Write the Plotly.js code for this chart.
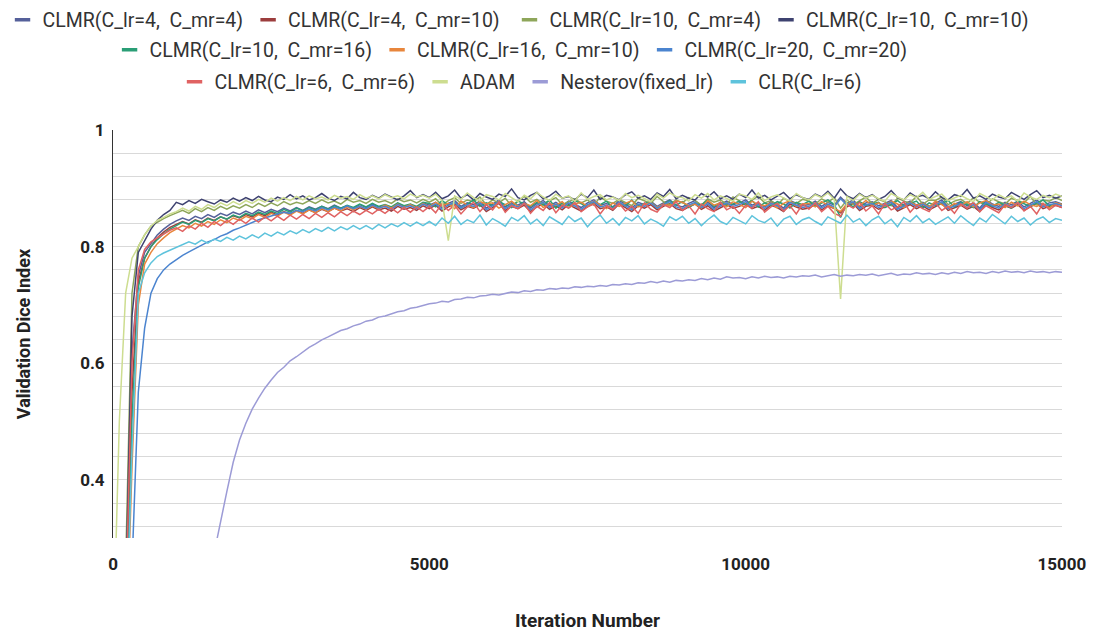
<!DOCTYPE html>
<html>
<head>
<meta charset="utf-8">
<script src="https://cdn.plot.ly/plotly-3.0.1.min.js"></script>
<style>html,body{margin:0;padding:0;background:#fff;}#chart{width:1099px;height:637px;}</style>
</head>
<body>
<div id="chart"></div>
<script>
// Iteration numbers (shared sample grid)
const iters = [
0,100,200,300,400,500,600,700,800,900,
1000,1100,1200,1300,1400,1500,1600,1700,1800,1900,
2000,2100,2200,2300,2400,2500,2600,2700,2800,2900,
3000,3100,3200,3300,3400,3500,3600,3700,3800,3900,
4000,4100,4200,4300,4400,4500,4600,4700,4800,4900,
5000,5100,5200,5300,5400,5500,5600,5700,5800,5900,
6000,6100,6200,6300,6400,6500,6600,6700,6800,6900,
7000,7100,7200,7300,7400,7500,7600,7700,7800,7900,
8000,8100,8200,8300,8400,8500,8600,8700,8800,8900,
9000,9100,9200,9300,9400,9500,9600,9700,9800,9900,
10000,10100,10200,10300,10400,10500,10600,10700,10800,10900,
11000,11100,11200,11300,11400,11500,11600,11700,11800,11900,
12000,12100,12200,12300,12400,12500,12600,12700,12800,12900,
13000,13100,13200,13300,13400,13500,13600,13700,13800,13900,
14000,14100,14200,14300,14400,14500,14600,14700,14800,14900,
15000];
const xTickVals = [0, 5000, 10000, 15000];
const xTickText = ['0', '5000', '10000', '15000'];

const seriesNames = [
"CLMR(C_lr=4,\u00a0 C_mr=4)", "CLMR(C_lr=4,\u00a0 C_mr=10)", "CLMR(C_lr=10,\u00a0 C_mr=4)", "CLMR(C_lr=10,\u00a0 C_mr=10)",
"CLMR(C_lr=10,\u00a0 C_mr=16)", "CLMR(C_lr=16,\u00a0 C_mr=10)", "CLMR(C_lr=20,\u00a0 C_mr=20)",
"CLMR(C_lr=6,\u00a0 C_mr=6)", "ADAM", "Nesterov(fixed_lr)", "CLR(C_lr=6)"];

const clmr_4_4 = [
0.05,0.05,0.15,0.62,0.75,0.79,0.805,0.82,0.83,0.838,
0.844,0.849,0.845,0.852,0.848,0.855,0.850,0.857,0.853,0.859,
0.855,0.861,0.856,0.863,0.858,0.864,0.860,0.866,0.861,0.867,
0.862,0.868,0.864,0.869,0.865,0.871,0.866,0.870,0.865,0.872,
0.867,0.873,0.868,0.871,0.866,0.874,0.869,0.872,0.867,0.875,
0.871,0.876,0.867,0.874,0.879,0.869,0.875,0.872,0.878,0.866,
0.873,0.880,0.868,0.875,0.871,0.877,0.866,0.874,0.879,0.870,
0.876,0.869,0.878,0.872,0.867,0.875,0.880,0.871,0.874,0.868,
0.879,0.873,0.866,0.876,0.872,0.878,0.869,0.875,0.880,0.871,
0.868,0.874,0.879,0.870,0.876,0.867,0.873,0.878,0.872,0.875,
0.880,0.871,0.875,0.868,0.877,0.873,0.866,0.879,0.874,0.870,
0.872,0.878,0.869,0.876,0.871,0.885,0.874,0.880,0.868,0.875,
0.877,0.870,0.874,0.879,0.867,0.873,0.878,0.871,0.876,0.869,
0.874,0.880,0.868,0.872,0.877,0.870,0.875,0.866,0.879,0.873,
0.869,0.876,0.872,0.878,0.868,0.874,0.880,0.871,0.875,0.877,
0.873];

const clmr_4_10 = [
0.05,0.05,0.12,0.55,0.74,0.78,0.80,0.815,0.825,0.833,
0.838,0.843,0.839,0.846,0.842,0.849,0.845,0.851,0.847,0.853,
0.849,0.855,0.851,0.857,0.853,0.859,0.854,0.860,0.856,0.862,
0.857,0.863,0.858,0.864,0.860,0.866,0.861,0.865,0.860,0.867,
0.862,0.868,0.863,0.866,0.861,0.869,0.864,0.867,0.862,0.870,
0.865,0.871,0.861,0.868,0.873,0.863,0.869,0.866,0.872,0.860,
0.867,0.874,0.862,0.869,0.865,0.871,0.860,0.868,0.873,0.864,
0.870,0.863,0.872,0.866,0.861,0.869,0.874,0.865,0.868,0.862,
0.873,0.867,0.860,0.870,0.866,0.872,0.863,0.869,0.874,0.865,
0.862,0.868,0.873,0.864,0.870,0.861,0.867,0.872,0.866,0.869,
0.874,0.865,0.869,0.862,0.871,0.867,0.860,0.873,0.868,0.864,
0.866,0.872,0.863,0.870,0.865,0.858,0.868,0.874,0.862,0.869,
0.871,0.864,0.868,0.873,0.861,0.867,0.872,0.865,0.870,0.863,
0.868,0.874,0.862,0.866,0.871,0.864,0.869,0.860,0.873,0.867,
0.863,0.870,0.866,0.872,0.862,0.868,0.874,0.865,0.869,0.871,
0.867];

const clmr_10_4 = [
0.05,0.08,0.25,0.72,0.80,0.82,0.835,0.842,0.848,0.853,
0.858,0.862,0.857,0.865,0.860,0.867,0.862,0.869,0.864,0.870,
0.866,0.872,0.867,0.874,0.869,0.875,0.870,0.877,0.872,0.876,
0.873,0.879,0.874,0.880,0.875,0.878,0.873,0.881,0.876,0.879,
0.874,0.881,0.876,0.879,0.874,0.882,0.877,0.880,0.875,0.881,
0.876,0.882,0.871,0.879,0.884,0.874,0.880,0.877,0.885,0.872,
0.880,0.875,0.883,0.870,0.878,0.886,0.876,0.881,0.873,0.879,
0.884,0.872,0.877,0.882,0.875,0.880,0.871,0.885,0.878,0.874,
0.881,0.876,0.870,0.883,0.879,0.874,0.886,0.877,0.872,0.880,
0.875,0.884,0.879,0.871,0.882,0.876,0.880,0.873,0.885,0.878,
0.872,0.880,0.886,0.875,0.879,0.871,0.883,0.877,0.874,0.881,
0.878,0.873,0.882,0.876,0.884,0.866,0.880,0.872,0.879,0.885,
0.874,0.881,0.877,0.870,0.883,0.878,0.875,0.886,0.873,0.880,
0.879,0.885,0.872,0.878,0.881,0.874,0.884,0.876,0.871,0.882,
0.877,0.873,0.883,0.879,0.875,0.886,0.872,0.880,0.878,0.884,
0.879];

const clmr_10_10 = [
0.05,0.06,0.20,0.68,0.79,0.81,0.83,0.845,0.855,0.862,
0.876,0.872,0.879,0.874,0.881,0.877,0.873,0.880,0.876,0.883,
0.878,0.884,0.879,0.886,0.880,0.877,0.885,0.881,0.889,0.882,
0.887,0.880,0.884,0.891,0.883,0.879,0.886,0.882,0.893,0.884,
0.881,0.888,0.883,0.890,0.885,0.880,0.887,0.896,0.884,0.889,
0.884,0.893,0.882,0.887,0.897,0.883,0.889,0.880,0.891,0.885,
0.881,0.890,0.886,0.899,0.884,0.880,0.888,0.893,0.882,0.887,
0.895,0.883,0.886,0.880,0.890,0.884,0.897,0.881,0.888,0.885,
0.880,0.889,0.894,0.883,0.887,0.881,0.892,0.886,0.898,0.882,
0.888,0.883,0.880,0.891,0.885,0.894,0.882,0.887,0.881,0.890,
0.884,0.897,0.883,0.888,0.880,0.886,0.893,0.882,0.889,0.884,
0.881,0.890,0.885,0.895,0.883,0.899,0.887,0.882,0.891,0.884,
0.889,0.881,0.886,0.896,0.884,0.880,0.892,0.885,0.888,0.882,
0.894,0.884,0.880,0.889,0.886,0.898,0.883,0.887,0.881,0.890,
0.885,0.882,0.893,0.887,0.881,0.889,0.896,0.884,0.888,0.883,
0.887];

const clmr_10_16 = [
0.05,0.05,0.10,0.50,0.73,0.78,0.80,0.812,0.822,0.830,
0.836,0.842,0.838,0.845,0.841,0.848,0.844,0.851,0.847,0.854,
0.850,0.857,0.853,0.859,0.855,0.861,0.857,0.864,0.859,0.866,
0.861,0.867,0.863,0.869,0.864,0.870,0.866,0.871,0.867,0.873,
0.868,0.874,0.869,0.872,0.868,0.875,0.870,0.873,0.869,0.876,
0.874,0.868,0.879,0.871,0.876,0.866,0.873,0.880,0.869,0.875,
0.870,0.877,0.872,0.867,0.878,0.874,0.869,0.876,0.871,0.880,
0.866,0.875,0.870,0.879,0.873,0.868,0.876,0.872,0.878,0.867,
0.875,0.870,0.880,0.869,0.874,0.877,0.866,0.873,0.879,0.871,
0.877,0.867,0.874,0.871,0.880,0.869,0.876,0.870,0.873,0.878,
0.871,0.879,0.868,0.875,0.870,0.877,0.873,0.866,0.876,0.872,
0.878,0.869,0.874,0.880,0.872,0.850,0.875,0.868,0.877,0.871,
0.873,0.876,0.867,0.872,0.879,0.870,0.874,0.878,0.866,0.875,
0.870,0.874,0.879,0.868,0.876,0.872,0.867,0.877,0.873,0.869,
0.876,0.871,0.866,0.878,0.873,0.869,0.875,0.880,0.870,0.874,
0.872];

const clmr_16_10 = [
0.05,0.05,0.08,0.42,0.70,0.77,0.79,0.805,0.815,0.824,
0.830,0.836,0.832,0.840,0.835,0.843,0.838,0.846,0.841,0.849,
0.845,0.852,0.848,0.855,0.850,0.857,0.852,0.859,0.854,0.861,
0.856,0.863,0.858,0.865,0.860,0.866,0.861,0.868,0.863,0.869,
0.864,0.870,0.865,0.871,0.866,0.873,0.867,0.872,0.866,0.874,
0.868,0.876,0.870,0.874,0.865,0.878,0.871,0.867,0.877,0.873,
0.875,0.866,0.872,0.878,0.869,0.874,0.870,0.879,0.867,0.873,
0.871,0.877,0.866,0.873,0.876,0.869,0.878,0.872,0.865,0.875,
0.869,0.874,0.879,0.868,0.872,0.876,0.867,0.873,0.870,0.878,
0.876,0.870,0.873,0.866,0.879,0.871,0.875,0.868,0.877,0.872,
0.867,0.878,0.872,0.870,0.875,0.866,0.874,0.879,0.869,0.873,
0.874,0.868,0.877,0.871,0.866,0.860,0.873,0.876,0.870,0.879,
0.870,0.875,0.869,0.878,0.873,0.867,0.876,0.871,0.874,0.868,
0.878,0.872,0.866,0.874,0.870,0.877,0.868,0.875,0.879,0.871,
0.873,0.867,0.876,0.870,0.878,0.872,0.869,0.874,0.866,0.875,
0.872];

const clmr_20_20 = [
0.05,0.05,0.05,0.25,0.55,0.66,0.72,0.745,0.76,0.77,
0.778,0.785,0.791,0.797,0.802,0.808,0.812,0.818,0.822,0.828,
0.832,0.837,0.841,0.846,0.849,0.853,0.856,0.859,0.857,0.862,
0.860,0.865,0.861,0.867,0.863,0.868,0.864,0.870,0.865,0.869,
0.865,0.871,0.866,0.869,0.864,0.872,0.867,0.870,0.865,0.873,
0.868,0.873,0.864,0.871,0.876,0.866,0.872,0.869,0.875,0.863,
0.870,0.877,0.865,0.872,0.868,0.874,0.863,0.871,0.876,0.867,
0.873,0.866,0.875,0.869,0.864,0.872,0.877,0.868,0.871,0.865,
0.876,0.870,0.863,0.873,0.869,0.875,0.866,0.872,0.877,0.868,
0.865,0.871,0.876,0.867,0.873,0.864,0.870,0.875,0.869,0.872,
0.877,0.868,0.872,0.865,0.874,0.870,0.863,0.876,0.871,0.867,
0.869,0.875,0.866,0.873,0.868,0.882,0.871,0.877,0.865,0.872,
0.874,0.867,0.871,0.876,0.864,0.870,0.875,0.868,0.873,0.866,
0.871,0.877,0.865,0.869,0.874,0.867,0.872,0.863,0.876,0.870,
0.866,0.873,0.869,0.875,0.865,0.871,0.877,0.868,0.872,0.874,
0.870];

const clmr_6_6 = [
0.05,0.06,0.18,0.60,0.76,0.795,0.808,0.815,0.822,0.828,
0.832,0.826,0.836,0.830,0.840,0.833,0.843,0.836,0.845,0.838,
0.847,0.840,0.849,0.842,0.851,0.844,0.852,0.845,0.854,0.847,
0.855,0.848,0.857,0.850,0.858,0.851,0.860,0.853,0.861,0.855,
0.862,0.856,0.864,0.857,0.866,0.858,0.867,0.859,0.868,0.860,
0.869,0.858,0.874,0.862,0.871,0.856,0.868,0.876,0.860,0.872,
0.863,0.877,0.859,0.870,0.865,0.874,0.857,0.869,0.862,0.875,
0.858,0.871,0.866,0.876,0.860,0.868,0.873,0.856,0.870,0.864,
0.874,0.861,0.869,0.857,0.875,0.864,0.859,0.872,0.867,0.877,
0.862,0.870,0.856,0.873,0.865,0.860,0.876,0.863,0.869,0.857,
0.871,0.866,0.877,0.859,0.868,0.874,0.861,0.870,0.856,0.873,
0.864,0.875,0.860,0.869,0.857,0.852,0.872,0.866,0.876,0.861,
0.870,0.856,0.874,0.863,0.868,0.877,0.859,0.871,0.865,0.860,
0.875,0.862,0.869,0.857,0.873,0.866,0.876,0.860,0.870,0.864,
0.858,0.872,0.867,0.876,0.861,0.869,0.856,0.874,0.863,0.871,
0.867];

const adam = [
0.10,0.50,0.72,0.78,0.80,0.82,0.835,0.845,0.850,0.856,
0.860,0.866,0.861,0.869,0.864,0.872,0.867,0.875,0.870,0.877,
0.872,0.879,0.874,0.881,0.876,0.883,0.878,0.884,0.879,0.886,
0.880,0.887,0.882,0.885,0.880,0.888,0.883,0.886,0.881,0.889,
0.883,0.887,0.882,0.889,0.884,0.887,0.882,0.890,0.885,0.888,
0.883,0.890,0.879,0.810,0.887,0.881,0.892,0.884,0.878,0.889,
0.886,0.880,0.891,0.884,0.877,0.888,0.882,0.893,0.885,0.879,
0.890,0.883,0.887,0.878,0.892,0.881,0.886,0.889,0.880,0.885,
0.879,0.891,0.884,0.888,0.882,0.877,0.890,0.883,0.892,0.886,
0.884,0.878,0.889,0.883,0.891,0.880,0.887,0.882,0.878,0.890,
0.887,0.881,0.892,0.879,0.885,0.889,0.883,0.878,0.891,0.884,
0.880,0.889,0.884,0.892,0.881,0.710,0.886,0.879,0.890,0.883,
0.888,0.882,0.878,0.891,0.885,0.880,0.889,0.884,0.893,0.881,
0.886,0.890,0.879,0.884,0.888,0.882,0.877,0.891,0.885,0.880,
0.889,0.883,0.887,0.878,0.892,0.885,0.881,0.888,0.884,0.890,
0.886];

const nesterov = [
0.05,0.05,0.05,0.05,0.05,0.05,0.05,0.05,0.05,0.05,
0.05,0.05,0.05,0.05,0.05,0.05,0.275,0.33,0.38,0.43,
0.468,0.497,0.521,0.540,0.557,0.571,0.584,0.593,0.604,0.611,
0.619,0.627,0.633,0.640,0.645,0.650,0.656,0.659,0.664,0.667,
0.672,0.674,0.679,0.681,0.685,0.688,0.690,0.694,0.696,0.699,
0.702,0.703,0.706,0.705,0.709,0.710,0.713,0.712,0.715,0.716,
0.718,0.717,0.720,0.722,0.721,0.724,0.723,0.726,0.725,0.728,
0.727,0.729,0.728,0.731,0.730,0.732,0.731,0.733,0.732,0.735,
0.734,0.736,0.735,0.738,0.737,0.740,0.738,0.741,0.739,0.742,
0.741,0.743,0.742,0.745,0.743,0.746,0.744,0.748,0.746,0.747,
0.745,0.748,0.746,0.749,0.747,0.748,0.746,0.749,0.748,0.750,
0.749,0.751,0.748,0.750,0.752,0.749,0.751,0.750,0.752,0.751,
0.753,0.750,0.752,0.754,0.751,0.753,0.752,0.755,0.753,0.754,
0.752,0.755,0.753,0.756,0.754,0.757,0.755,0.756,0.754,0.757,
0.755,0.758,0.756,0.757,0.755,0.758,0.756,0.757,0.755,0.757,
0.756];

const clr_6 = [
0.05,0.05,0.10,0.45,0.72,0.755,0.772,0.783,0.789,0.794,
0.798,0.803,0.808,0.804,0.811,0.806,0.813,0.809,0.816,0.811,
0.818,0.813,0.820,0.815,0.823,0.818,0.825,0.820,0.827,0.822,
0.829,0.824,0.831,0.826,0.833,0.827,0.834,0.829,0.836,0.830,
0.836,0.830,0.838,0.832,0.839,0.834,0.841,0.835,0.842,0.836,
0.843,0.836,0.849,0.840,0.852,0.838,0.846,0.841,0.854,0.837,
0.848,0.842,0.835,0.850,0.844,0.853,0.839,0.847,0.836,0.851,
0.845,0.838,0.852,0.843,0.849,0.834,0.846,0.854,0.840,0.848,
0.837,0.850,0.844,0.853,0.839,0.847,0.842,0.835,0.851,0.845,
0.852,0.840,0.848,0.836,0.846,0.854,0.843,0.838,0.850,0.844,
0.839,0.853,0.845,0.841,0.849,0.835,0.847,0.852,0.838,0.846,
0.850,0.843,0.837,0.851,0.846,0.840,0.854,0.842,0.848,0.836,
0.846,0.852,0.839,0.847,0.834,0.850,0.843,0.853,0.841,0.848,
0.838,0.845,0.851,0.840,0.853,0.844,0.836,0.849,0.842,0.855,
0.847,0.839,0.852,0.843,0.849,0.837,0.846,0.851,0.841,0.848,
0.845];

const seriesValues = [clmr_4_4, clmr_4_10, clmr_10_4, clmr_10_10, clmr_10_16, clmr_16_10, clmr_20_20, clmr_6_6, adam, nesterov, clr_6];
const seriesColors = ['#55609a','#9c3d3d','#8ea65a','#3e4270','#2a9e76','#e8863c','#4b84cf','#e06262','#cddd90','#9c9bd6','#5ec3dc'];
const legendRow = ['legend','legend','legend4','legend4','legend2','legend2','legend2','legend3','legend3','legend3','legend3'];

const traces = [];
seriesValues.forEach((vals, i) => {
  traces.push({
    type: 'scatter', mode: 'lines', x: iters, y: vals,
    name: seriesNames[i], showlegend: false,
    line: {color: seriesColors[i], width: 1.5}, hoverinfo: 'skip'
  });
});
// legend entries (no data)
seriesValues.forEach((vals, i) => {
  traces.push({
    type: 'scatter', mode: 'markers', x: [null], y: [null],
    name: seriesNames[i], legend: legendRow[i], showlegend: true,
    marker: {symbol: 'line-ew', size: 11, color: seriesColors[i], line: {color: seriesColors[i], width: 3.5}}
  });
});

const legendFont = {family: 'Roboto', size: 19.5, color: '#333'};
const legBase = {orientation: 'h', xref: 'container', yref: 'container', xanchor: 'left', yanchor: 'middle',
  bgcolor: 'rgba(0,0,0,0)', font: legendFont, itemwidth: 30, tracegroupgap: 0};

const layout = {
  width: 1099, height: 637,
  margin: {l: 113, r: 37, t: 130, b: 99},
  paper_bgcolor: '#fff', plot_bgcolor: '#fff',
  font: {family: 'Roboto', color: '#222'},
  xaxis: {
    range: [0, 15000], tickvals: xTickVals, ticktext: xTickText,
    showgrid: false, zeroline: false, showline: false, ticks: '',
    ticklabelstandoff: 14,
    tickfont: {family: 'Roboto', size: 17, weight: 'bold', color: '#222'},
    title: {text: 'Iteration Number', standoff: 40, font: {family: 'Roboto', size: 19, weight: 'bold', color: '#222'}}
  },
  yaxis: {
    range: [0.3, 1], tick0: 0, dtick: 0.2,
    showgrid: true, gridcolor: '#d9d9d9', gridwidth: 1,
    minor: {tick0: 0, dtick: 0.04, showgrid: true, gridcolor: '#d9d9d9', gridwidth: 1, ticks: ''},
    zeroline: false, showline: true, linecolor: '#333', linewidth: 1, ticks: '',
    ticklabelstandoff: 4,
    tickfont: {family: 'Roboto', size: 17, weight: 'bold', color: '#222'},
    title: {text: 'Validation Dice Index', standoff: 44, font: {family: 'Roboto', size: 18, weight: 'bold', color: '#222'}}
  },
  legend: Object.assign({}, legBase, {x: 0.0023, y: 0.9686}),
  legend4: Object.assign({}, legBase, {x: 0.4636, y: 0.9686}),
  legend2: Object.assign({}, legBase, {x: 0.0997, y: 0.9215}),
  legend3: Object.assign({}, legBase, {x: 0.1588, y: 0.8713}),
  showlegend: true
};

Plotly.newPlot('chart', traces, layout, {displayModeBar: false, staticPlot: true});
</script>
</body>
</html>
